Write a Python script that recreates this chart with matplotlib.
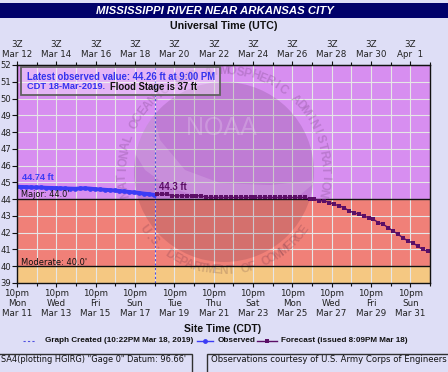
import matplotlib
matplotlib.use('Agg')
import matplotlib.pyplot as plt
import matplotlib.dates as mdates
from matplotlib.patches import Rectangle, Circle, Polygon
from matplotlib.lines import Line2D
import numpy as np
import pandas as pd
from datetime import datetime, timedelta

W, H = 448, 372

# ---------------- data ----------------
obs_start = datetime(2019, 3, 11, 21, 0)
obs_step_h = 6
obs_values = [44.74, 44.73, 44.72, 44.71, 44.70, 44.70, 44.68, 44.67, 44.66, 44.65,
              44.64, 44.63, 44.62, 44.64, 44.65, 44.63, 44.60, 44.58, 44.56, 44.54,
              44.52, 44.49, 44.46, 44.43, 44.40, 44.37, 44.33, 44.30, 44.26]

fcst_start = datetime(2019, 3, 19, 1, 0)
fcst_step_h = 6
fcst_values = [44.3, 44.3, 44.3,
               44.2, 44.2, 44.2, 44.2, 44.2, 44.2, 44.2,
               44.1, 44.1, 44.1, 44.1, 44.1, 44.1, 44.1, 44.1, 44.1, 44.1, 44.1,
               44.1, 44.1, 44.1, 44.1, 44.1, 44.1, 44.1, 44.1, 44.1, 44.1,
               44.0, 44.0, 43.9, 43.9, 43.8, 43.7, 43.6, 43.5, 43.3, 43.2,
               43.1, 43.0, 42.9, 42.8, 42.6, 42.5, 42.3, 42.1, 41.9, 41.7,
               41.5, 41.4, 41.2, 41.0, 40.9]

major_stage = 44.0
moderate_stage = 40.0
graph_created = datetime(2019, 3, 18, 22, 22)

bottom_labels = ["10pm\nMon\nMar 11", "10pm\nWed\nMar 13", "10pm\nFri\nMar 15",
                 "10pm\nSun\nMar 17", "10pm\nTue\nMar 19", "10pm\nThu\nMar 21",
                 "10pm\nSat\nMar 23", "10pm\nMon\nMar 25", "10pm\nWed\nMar 27",
                 "10pm\nFri\nMar 29", "10pm\nSun\nMar 31"]
top_labels = ["3Z\nMar 12", "3Z\nMar 14", "3Z\nMar 16", "3Z\nMar 18", "3Z\nMar 20",
              "3Z\nMar 22", "3Z\nMar 24", "3Z\nMar 26", "3Z\nMar 28", "3Z\nMar 30",
              "3Z\nApr  1"]
y_ticks = list(range(39, 53))

# ---------------- style ----------------
BG = '#DEDEF6'
C_PURPLE = '#D78EF0'
C_RED = '#F08078'
C_ORANGE = '#F5C882'
C_OBS = '#3C3CF5'
C_FCST = '#5B0F66'
TXT = '#222222'

fig = plt.figure(figsize=(W / 100, H / 100), dpi=100, facecolor=BG)
x0, x1, y0, y1 = 17, 430, 65, 283
ax = fig.add_axes([x0 / W, 1 - y1 / H, (x1 - x0) / W, (y1 - y0) / H])
ax.set_facecolor(C_PURPLE)

t0 = datetime(2019, 3, 11, 22, 0)
t_end = t0 + timedelta(days=21)

ax.axhspan(44, 52, color=C_PURPLE, zorder=0, lw=0)
ax.axhspan(40, 44, color=C_RED, zorder=0, lw=0)
ax.axhspan(39, 40, color=C_ORANGE, zorder=0, lw=0)

# ---------------- watermark ----------------
cx, cy, R = 224, 172, 90


def inch(px, py):
    return (px / 100, (H - py) / 100)


disk = Circle(inch(cx, cy), R / 100, transform=fig.dpi_scale_trans,
              facecolor='#301030', alpha=0.14, edgecolor='none', zorder=0.6)
ax.add_patch(disk)
sw_pts = [(132, 120), (150, 100), (160, 140), (185, 170), (220, 183), (270, 185),
          (318, 180), (300, 195), (250, 200), (205, 198), (170, 188), (145, 170), (133, 150)]
swoosh = Polygon([inch(*p) for p in sw_pts], closed=True, transform=fig.dpi_scale_trans,
                 facecolor='white', alpha=0.14, edgecolor='none', zorder=0.65)
ax.add_patch(swoosh)
swoosh.set_clip_path(disk)

ax.text(*inch(221, 128), 'NOAA', transform=fig.dpi_scale_trans, ha='center', va='center',
        fontsize=18, family='Liberation Sans', color='white', alpha=0.2, zorder=0.7)


def arc_text(s, r, a0, a1, top=True, size=8.6):
    angs = np.linspace(a0, a1, len(s))
    for ch, a in zip(s, angs):
        px = cx + r * np.cos(np.radians(a))
        py = cy - r * np.sin(np.radians(a))
        rot = a - 90 if top else a + 90
        ax.text(*inch(px, py), ch, transform=fig.dpi_scale_trans, rotation=rot,
                rotation_mode='anchor', ha='center', va='center', fontsize=size,
                fontweight='bold', family='Liberation Sans', color='#301030',
                alpha=0.17, zorder=0.7)


arc_text("NATIONAL OCEANIC AND ATMOSPHERIC ADMINISTRATION", 101, 192, -12, top=True)
arc_text("U.S. DEPARTMENT OF COMMERCE", 99, 216, 324, top=False)

# ---------------- axes / grid ----------------
ax.set_xlim(t0, t_end)
ax.set_ylim(39, 52)
major_x = [t0 + timedelta(days=2 * i) for i in range(11)]
minor_x = [t0 + timedelta(days=2 * i + 1) for i in range(11)]
ax.set_xticks(major_x)
ax.set_xticklabels(bottom_labels)
ax.set_xticks(minor_x, minor=True)
ax.set_yticks(y_ticks)
ax.set_yticklabels([str(v) for v in y_ticks])
ax.tick_params(axis='x', which='major', length=3.2, width=0.8, pad=1, labelsize=6.3,
               labelcolor=TXT, color='#111111')
ax.tick_params(axis='x', which='minor', length=2.2, width=0.8, color='#111111')
ax.tick_params(axis='y', length=3.4, width=0.8, pad=0.5, labelsize=6.1,
               labelcolor=TXT, color='#111111')
for lab in ax.get_xticklabels():
    lab.set_linespacing(1.15)

ax.set_axisbelow(True)
ax.grid(which='both', color='#E6E6E6', lw=0.8, zorder=0.5)
for sp in ax.spines.values():
    sp.set_color('#111111')
    sp.set_linewidth(1.0)
    sp.set_zorder(5)

sec = ax.secondary_xaxis('top')
sec.set_xticks(major_x)
sec.set_xticklabels(top_labels)
sec.set_xticks(minor_x, minor=True)
sec.tick_params(axis='x', which='major', length=3.2, width=0.8, pad=1, labelsize=6.3,
                labelcolor=TXT, color='#111111')
sec.tick_params(axis='x', which='minor', length=2.2, width=0.8, color='#111111')
for lab in sec.get_xticklabels():
    lab.set_linespacing(1.1)

# threshold lines
ax.axhline(major_stage, color='#111111', lw=1.0, zorder=2)
ax.axhline(moderate_stage, color='#111111', lw=1.0, zorder=2)

# graph created line
ax.axvline(graph_created, color='#5050E0', lw=0.8, ls=(0, (2, 2)), zorder=2.5)

# ---------------- data ----------------
obs_t = pd.date_range(obs_start, periods=len(obs_values), freq=f'{obs_step_h}h')
fc_t = pd.date_range(fcst_start, periods=len(fcst_values), freq=f'{fcst_step_h}h')
ax.plot(obs_t, obs_values, color=C_OBS, lw=2.8, marker='o', ms=3.4, mew=0, zorder=3)
ax.plot(fc_t, fcst_values, color=C_FCST, lw=1.0, marker='s', ms=2.8, mew=0, zorder=3)

# ---------------- texts ----------------
renderer = fig.canvas.get_renderer()


def fit_text(x, y, s, width, ha='left', va='center', base=8, **kw):
    t = fig.text(x / W, 1 - y / H, s, ha=ha, va=va, fontsize=base, **kw)
    w = t.get_window_extent(renderer).width
    t.set_fontsize(base * width / w)
    return t


fit_text(22, 178, f"{obs_values[0]:.2f} ft", 32, color=C_OBS, fontweight='bold',
         family='Liberation Sans', zorder=6)
fit_text(159, 187, f"{fcst_values[0]:.1f} ft", 28, color=C_FCST, fontweight='bold',
         family='Liberation Sans', zorder=6)
fit_text(21, 194.5, f"Major: {major_stage:.1f}'", 49, color='#111111', zorder=6)
fit_text(21, 262.5, f"Moderate: {moderate_stage:.1f}'", 66, color='#111111', zorder=6)

# info box
box = Rectangle((21 / W, 1 - 95 / H), (220 - 21) / W, (95 - 67) / H, transform=fig.transFigure,
                facecolor='white', alpha=0.35, edgecolor='none', zorder=6)
fig.patches.append(box)
boxe = Rectangle((21 / W, 1 - 95 / H), (220 - 21) / W, (95 - 67) / H, transform=fig.transFigure,
                 facecolor='none', edgecolor='#606060', lw=1.3, zorder=6)
fig.patches.append(boxe)
fit_text(27, 77, f"Latest observed value: {obs_values[-1]:.2f} ft at 9:00 PM", 190,
         color='#3333EE', fontweight='bold', family='Liberation Sans', zorder=7)
fit_text(27, 86.5, "CDT 18-Mar-2019.", 78, color='#3333EE', fontweight='bold',
         family='Liberation Sans', zorder=7)
fit_text(110, 86.5, "Flood Stage is 37 ft", 88, color='#111111', fontweight='bold',
         family='Liberation Sans', zorder=7)

# title bar
fig.patches.append(Rectangle((0, 1 - 18 / H), 1, 15 / H, transform=fig.transFigure,
                             facecolor='#00006A', edgecolor='none', zorder=1))
fit_text(215, 10.5, "MISSISSIPPI RIVER NEAR ARKANSAS CITY", 236, ha='center', color='white',
         fontweight='bold', fontstyle='italic', family='Liberation Sans')
fit_text(223.5, 26, "Universal Time (UTC)", 107, ha='center', color='#111111',
         fontweight='bold', family='Liberation Sans')
fit_text(222.5, 329, "Site Time (CDT)", 77, ha='center', color='#111111',
         fontweight='bold', family='Liberation Sans')

# legend row
ly = 1 - 341 / H
fig.lines.append(Line2D([23 / W, 36 / W], [ly, ly], transform=fig.transFigure, color='#5050E0',
                        lw=0.8, ls=(0, (2, 2))))
fit_text(45, 341, "Graph Created (10:22PM Mar 18, 2019)", 148, color='#111111',
         fontweight='bold', family='Liberation Sans')
fig.lines.append(Line2D([197 / W, 213 / W], [ly, ly], transform=fig.transFigure, color=C_OBS,
                        lw=1.0))
fig.lines.append(Line2D([205 / W], [ly], transform=fig.transFigure, color=C_OBS, marker='o',
                        ms=3.5, mew=0))
fit_text(218, 341, "Observed", 38, color='#111111', fontweight='bold', family='Liberation Sans')
fig.lines.append(Line2D([257 / W, 277 / W], [ly, ly], transform=fig.transFigure, color=C_FCST,
                        lw=1.0))
fig.lines.append(Line2D([267 / W], [ly], transform=fig.transFigure, color=C_FCST, marker='s',
                        ms=3, mew=0))
fit_text(281, 341, "Forecast (issued 8:09PM Mar 18)", 126, color='#111111',
         fontweight='bold', family='Liberation Sans')

# bottom boxes
fig.patches.append(Rectangle((-2 / W, -2 / H), 194 / W, (372 - 354 + 2) / H,
                             transform=fig.transFigure, facecolor=BG, edgecolor='#303030', lw=1.0))
fig.patches.append(Rectangle((207 / W, -2 / H), 244 / W, (372 - 354 + 2) / H,
                             transform=fig.transFigure, facecolor=BG, edgecolor='#303030', lw=1.0))
fit_text(1, 360, "SA4(plotting HGIRG) \"Gage 0\" Datum: 96.66'", 187, color='#111111')
fit_text(211, 360, "Observations courtesy of U.S. Army Corps of Engineers", 234, color='#111111')

fig.savefig('out.png', dpi=100, facecolor=BG)
